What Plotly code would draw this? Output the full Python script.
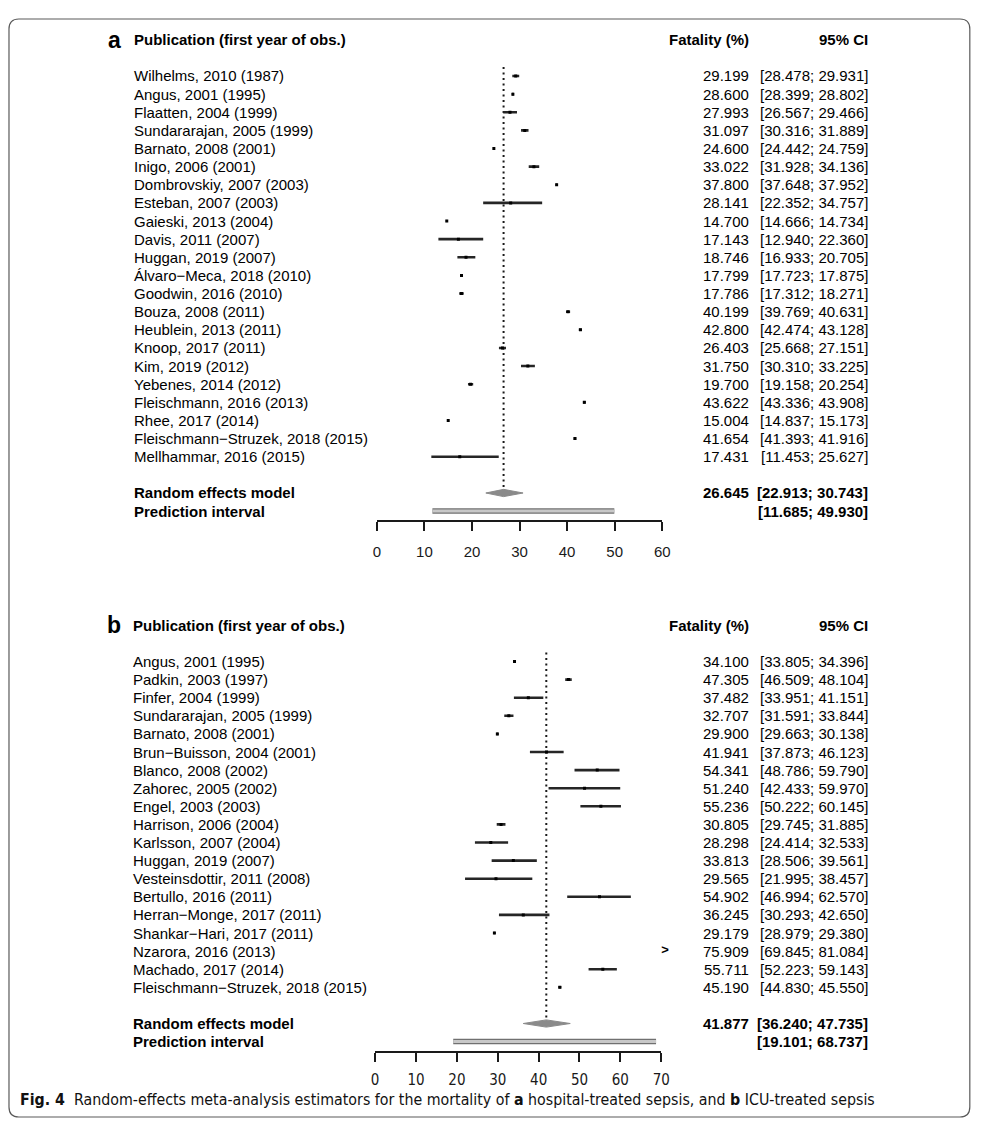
import plotly.graph_objects as go

# panel a: hospital-treated sepsis
estudios_a = ["Wilhelms, 2010 (1987)", "Angus, 2001 (1995)", "Flaatten, 2004 (1999)",
              "Sundararajan, 2005 (1999)", "Barnato, 2008 (2001)", "Inigo, 2006 (2001)",
              "Dombrovskiy, 2007 (2003)", "Esteban, 2007 (2003)", "Gaieski, 2013 (2004)",
              "Davis, 2011 (2007)", "Huggan, 2019 (2007)", "Álvaro−Meca, 2018 (2010)",
              "Goodwin, 2016 (2010)", "Bouza, 2008 (2011)", "Heublein, 2013 (2011)",
              "Knoop, 2017 (2011)", "Kim, 2019 (2012)", "Yebenes, 2014 (2012)",
              "Fleischmann, 2016 (2013)", "Rhee, 2017 (2014)",
              "Fleischmann−Struzek, 2018 (2015)", "Mellhammar, 2016 (2015)"]
est_a = [29.199, 28.600, 27.993, 31.097, 24.600, 33.022, 37.800, 28.141, 14.700, 17.143, 18.746,
         17.799, 17.786, 40.199, 42.800, 26.403, 31.750, 19.700, 43.622, 15.004, 41.654, 17.431]
lo_a = [28.478, 28.399, 26.567, 30.316, 24.442, 31.928, 37.648, 22.352, 14.666, 12.940, 16.933,
        17.723, 17.312, 39.769, 42.474, 25.668, 30.310, 19.158, 43.336, 14.837, 41.393, 11.453]
hi_a = [29.931, 28.802, 29.466, 31.889, 24.759, 34.136, 37.952, 34.757, 14.734, 22.360, 20.705,
        17.875, 18.271, 40.631, 43.128, 27.151, 33.225, 20.254, 43.908, 15.173, 41.916, 25.627]
re_a = [26.645, 22.913, 30.743]
pi_a = [11.685, 49.930]
ticks_a = [0, 10, 20, 30, 40, 50, 60]

# panel b: ICU-treated sepsis
estudios_b = ["Angus, 2001 (1995)", "Padkin, 2003 (1997)", "Finfer, 2004 (1999)",
              "Sundararajan, 2005 (1999)", "Barnato, 2008 (2001)", "Brun−Buisson, 2004 (2001)",
              "Blanco, 2008 (2002)", "Zahorec, 2005 (2002)", "Engel, 2003 (2003)",
              "Harrison, 2006 (2004)", "Karlsson, 2007 (2004)", "Huggan, 2019 (2007)",
              "Vesteinsdottir, 2011 (2008)", "Bertullo, 2016 (2011)", "Herran−Monge, 2017 (2011)",
              "Shankar−Hari, 2017 (2011)", "Nzarora, 2016 (2013)", "Machado, 2017 (2014)",
              "Fleischmann−Struzek, 2018 (2015)"]
est_b = [34.100, 47.305, 37.482, 32.707, 29.900, 41.941, 54.341, 51.240, 55.236, 30.805,
         28.298, 33.813, 29.565, 54.902, 36.245, 29.179, 75.909, 55.711, 45.190]
lo_b = [33.805, 46.509, 33.951, 31.591, 29.663, 37.873, 48.786, 42.433, 50.222, 29.745,
        24.414, 28.506, 21.995, 46.994, 30.293, 28.979, 69.845, 52.223, 44.830]
hi_b = [34.396, 48.104, 41.151, 33.844, 30.138, 46.123, 59.790, 59.970, 60.145, 31.885,
        32.533, 39.561, 38.457, 62.570, 42.650, 29.380, 81.084, 59.143, 45.550]
re_b = [41.877, 36.240, 47.735]
pi_b = [19.101, 68.737]
ticks_b = [0, 10, 20, 30, 40, 50, 60, 70]

W, H = 983, 1132
FUENTE = "Liberation Sans, Arial, Helvetica, sans-serif"
ANGOSTA = "Liberation Sans Narrow, DejaVu Sans Condensed, Arial Narrow, sans-serif"
NEGRO = "#1a1a1a"
PAD = 3  # relleno interno de las anotaciones
# ajuste horizontal medido en la captura (la figura sale ~1% mas estrecha)
ESCALA_X, OFFSET_X = 0.989, 3.0


def px(x):
    return ((x - OFFSET_X) / ESCALA_X) / W


def py(y):
    return 1 - y / H


fig = go.Figure()
anotaciones = []


def panel(n, letra, estudios, est, lo, hi, re, pi, ticks, fila0, paso, x0, x1, col_x, standoff, fuente_ticks):
    xa = 'x' if n == 1 else 'x%d' % n
    ya = 'y' if n == 1 else 'y%d' % n
    k = len(estudios)
    filas = list(range(k))
    fila_re = k + 1
    fila_pi = k + 2
    xmax = ticks[-1]

    dentro = [i for i in filas if est[i] <= xmax]
    fuera = [i for i in filas if est[i] > xmax]

    # linea de referencia punteada
    fig.add_trace(go.Scatter(x=[re[0], re[0]], y=[-0.5, fila_re - 0.22], mode='lines',
                             line=dict(color=NEGRO, width=2, dash='2px,3.5px'),
                             xaxis=xa, yaxis=ya, hoverinfo='skip'))
    # estudios con IC
    fig.add_trace(go.Scatter(
        x=[est[i] for i in dentro], y=[filas[i] for i in dentro], mode='markers',
        marker=dict(symbol='square', size=3, color='black'),
        error_x=dict(type='data', symmetric=False,
                     array=[hi[i] - est[i] for i in dentro],
                     arrayminus=[est[i] - lo[i] for i in dentro],
                     thickness=2.6, width=0, color='#262626'),
        xaxis=xa, yaxis=ya, hoverinfo='skip'))
    if fuera:
        fig.add_trace(go.Scatter(x=[xmax] * len(fuera), y=[filas[i] for i in fuera], mode='text',
                                 text=['<b>></b>'] * len(fuera), textposition='middle right',
                                 textfont=dict(family=FUENTE, size=13, color='black'),
                                 cliponaxis=False, xaxis=xa, yaxis=ya, hoverinfo='skip'))
    # diamante del modelo de efectos aleatorios
    fig.add_trace(go.Scatter(x=[re[1], re[0], re[2], re[0], re[1]],
                             y=[fila_re, fila_re - 0.2, fila_re, fila_re + 0.2, fila_re],
                             mode='lines', fill='toself', fillcolor='#8a8a8a',
                             line=dict(color='#8a8a8a', width=1),
                             xaxis=xa, yaxis=ya, hoverinfo='skip'))
    # intervalo de prediccion
    fig.add_trace(go.Scatter(x=pi, y=[fila_pi, fila_pi], mode='lines',
                             line=dict(color='#707070', width=5.5),
                             xaxis=xa, yaxis=ya, hoverinfo='skip'))
    fig.add_trace(go.Scatter(x=pi, y=[fila_pi, fila_pi], mode='lines',
                             line=dict(color='#c8c8c8', width=3),
                             xaxis=xa, yaxis=ya, hoverinfo='skip'))

    top = fila0 - 2.5 * paso
    bottom = fila0 + (fila_pi + 0.5) * paso
    fig.update_layout(**{
        ('xaxis' if n == 1 else 'xaxis%d' % n): dict(
            domain=[px(x0), px(x1)], range=[0, xmax], anchor=ya,
            tickvals=ticks, ticks='outside', ticklen=9, tickwidth=2, tickcolor=NEGRO,
            showline=True, linewidth=2, linecolor=NEGRO, showgrid=False, zeroline=False,
            ticklabelstandoff=standoff,
            tickfont=dict(family=fuente_ticks, size=15, color=NEGRO)),
        ('yaxis' if n == 1 else 'yaxis%d' % n): dict(
            domain=[py(bottom), py(top)], range=[fila_pi + 0.5, -2.5], anchor=xa,
            visible=False, showgrid=False, zeroline=False),
    })

    def texto(x, fila, t, anchor, size=15, bold=False):
        x = x - PAD if anchor == 'left' else x + PAD
        anotaciones.append(dict(x=px(x), xref='paper', y=fila, yref=ya, text='<b>%s</b>' % t if bold else t,
                                showarrow=False, xanchor=anchor, yanchor='middle',
                                font=dict(family=FUENTE, size=size, color='black')))

    texto(col_x - 26, -2, letra, 'left', size=23, bold=True)
    texto(col_x, -2, 'Publication (first year of obs.)', 'left', bold=True)
    texto(749, -2, 'Fatality (%)', 'right', bold=True)
    texto(868, -2, '95% CI', 'right', bold=True)
    for i in filas:
        texto(col_x, i, estudios[i], 'left')
        texto(749, i, '%.3f' % est[i], 'right')
        texto(868, i, '[%.3f; %.3f]' % (lo[i], hi[i]), 'right')
    texto(col_x, fila_re, 'Random effects model', 'left', bold=True)
    texto(749, fila_re, '%.3f' % re[0], 'right', bold=True)
    texto(868, fila_re, '[%.3f; %.3f]' % (re[1], re[2]), 'right', bold=True)
    texto(col_x, fila_pi, 'Prediction interval', 'left', bold=True)
    texto(868, fila_pi, '[%.3f; %.3f]' % (pi[0], pi[1]), 'right', bold=True)


panel(1, 'a', estudios_a, est_a, lo_a, hi_a, re_a, pi_a, ticks_a,
      76, 18.13, 376.7, 662.7, 134, 8, FUENTE)
panel(2, 'b', estudios_b, est_b, lo_b, hi_b, re_b, pi_b, ticks_b,
      661.5, 18.1, 375, 661.7, 133, 5, ANGOSTA)

anotaciones.append(dict(
    x=px(20 - PAD), xref='paper', y=py(1099), yref='paper', xanchor='left', yanchor='middle', showarrow=False,
    text='<b>Fig. 4</b>&nbsp;&nbsp;Random-effects meta-analysis estimators for the mortality of '
         '<b>a</b> hospital-treated sepsis, and <b>b</b> ICU-treated sepsis',
    font=dict(family=ANGOSTA, size=15.8, color='#111')))

# marco redondeado
l, r, t, b, rad = px(8), px(971), py(19), py(1117), 10
rx, ry = rad / W, rad / H
marco = ('M %f %f L %f %f Q %f %f %f %f L %f %f Q %f %f %f %f L %f %f Q %f %f %f %f L %f %f Q %f %f %f %f Z'
         % (l + rx, t, r - rx, t, r, t, r, t - ry, r, b + ry, r, b, r - rx, b,
            l + rx, b, l, b, l, b + ry, l, t - ry, l, t, l + rx, t))

fig.update_layout(
    width=W, height=H, autosize=False, margin=dict(l=0, r=0, t=0, b=0),
    paper_bgcolor='white', plot_bgcolor='white', showlegend=False,
    annotations=anotaciones,
    shapes=[dict(type='path', path=marco, xref='paper', yref='paper',
                 line=dict(color='#5a5a5a', width=1.2))],
)

# sin margen del body para que la figura quede en 0,0
fig.write_html("out.html", config={'displayModeBar': False, 'responsive': False},
               post_script="document.body.style.margin='0';document.body.style.overflow='hidden';")
